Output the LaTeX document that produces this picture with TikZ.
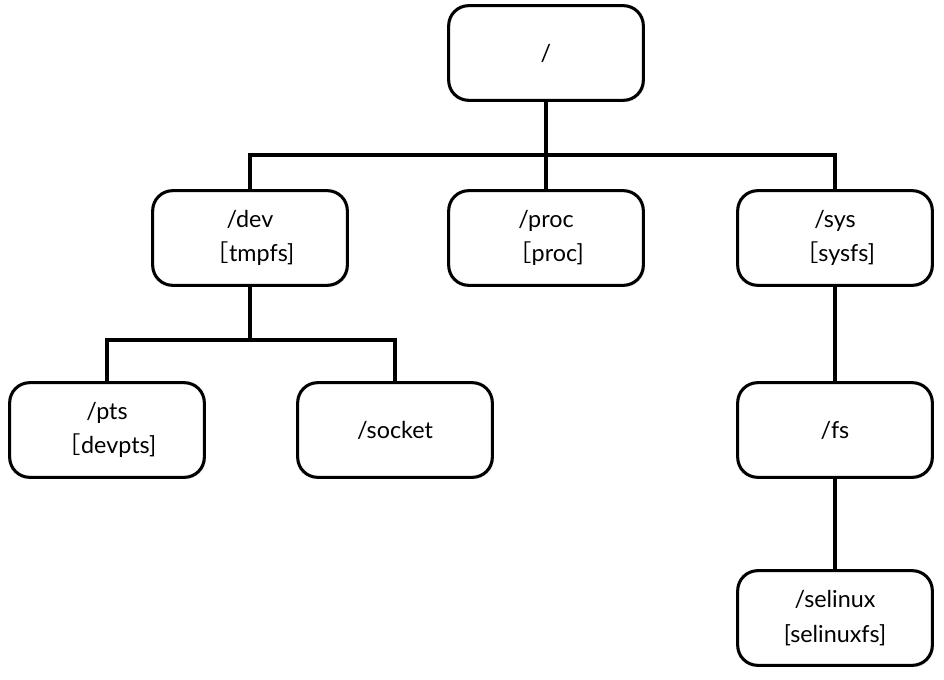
\documentclass[tikz,border=0pt]{standalone}
\usepackage{fontspec}
\setmainfont{Lato}
\newfontfamily\cjk{Noto Sans CJK SC}
\usetikzlibrary{shadows}
\tikzset{
  fsbox/.style={draw,line width=2.3pt,rounded corners=15pt,fill=white,
    minimum width=146pt,minimum height=71pt,align=center,
    font=\fontsize{17.5}{23}\selectfont,
    drop shadow={opacity=0.2,shadow xshift=1.2pt,shadow yshift=-1.2pt}},
  tree/.style={line width=2.4pt}
}
\begin{document}
\begin{tikzpicture}[x=0.75pt,y=-0.75pt]
    \useasboundingbox (0,0) rectangle (944,680);

    % top level
    \node[fsbox] (root) at (546,53) {/};

    % second level
    \node[fsbox] (dev)  at (250,238) {/dev\\[3pt]{\cjk ［}tmpfs]};
    \node[fsbox] (proc) at (546,238) {/proc\\[3pt]{\cjk ［}proc]};
    \node[fsbox] (sys)  at (835,238) {/sys\\[3pt]{\cjk ［}sysfs]};

    % under /dev
    \node[fsbox] (pts)    at (107,430) {/pts\\[3pt]{\cjk ［}devpts]};
    \node[fsbox] (socket) at (395,430) {/socket};

    % under /sys
    \node[fsbox] (fs)      at (835,430) {/fs};
    \node[fsbox] (selinux) at (835,618) {/selinux\\[3pt]{[}selinuxfs]};

    % branch points
    \coordinate (rootjoin) at (546,155);
    \coordinate (devjoin)  at (250,340);

    % connectors
    \draw[tree] (root.south) -- (rootjoin) -- (proc.north);
    \draw[tree] (dev.north) |- (rootjoin) -| (sys.north);
    \draw[tree] (dev.south) -- (devjoin);
    \draw[tree] (pts.north) |- (devjoin) -| (socket.north);
    \draw[tree] (sys.south) -- (fs.north);
    \draw[tree] (fs.south) -- (selinux.north);
\end{tikzpicture}
\end{document}
